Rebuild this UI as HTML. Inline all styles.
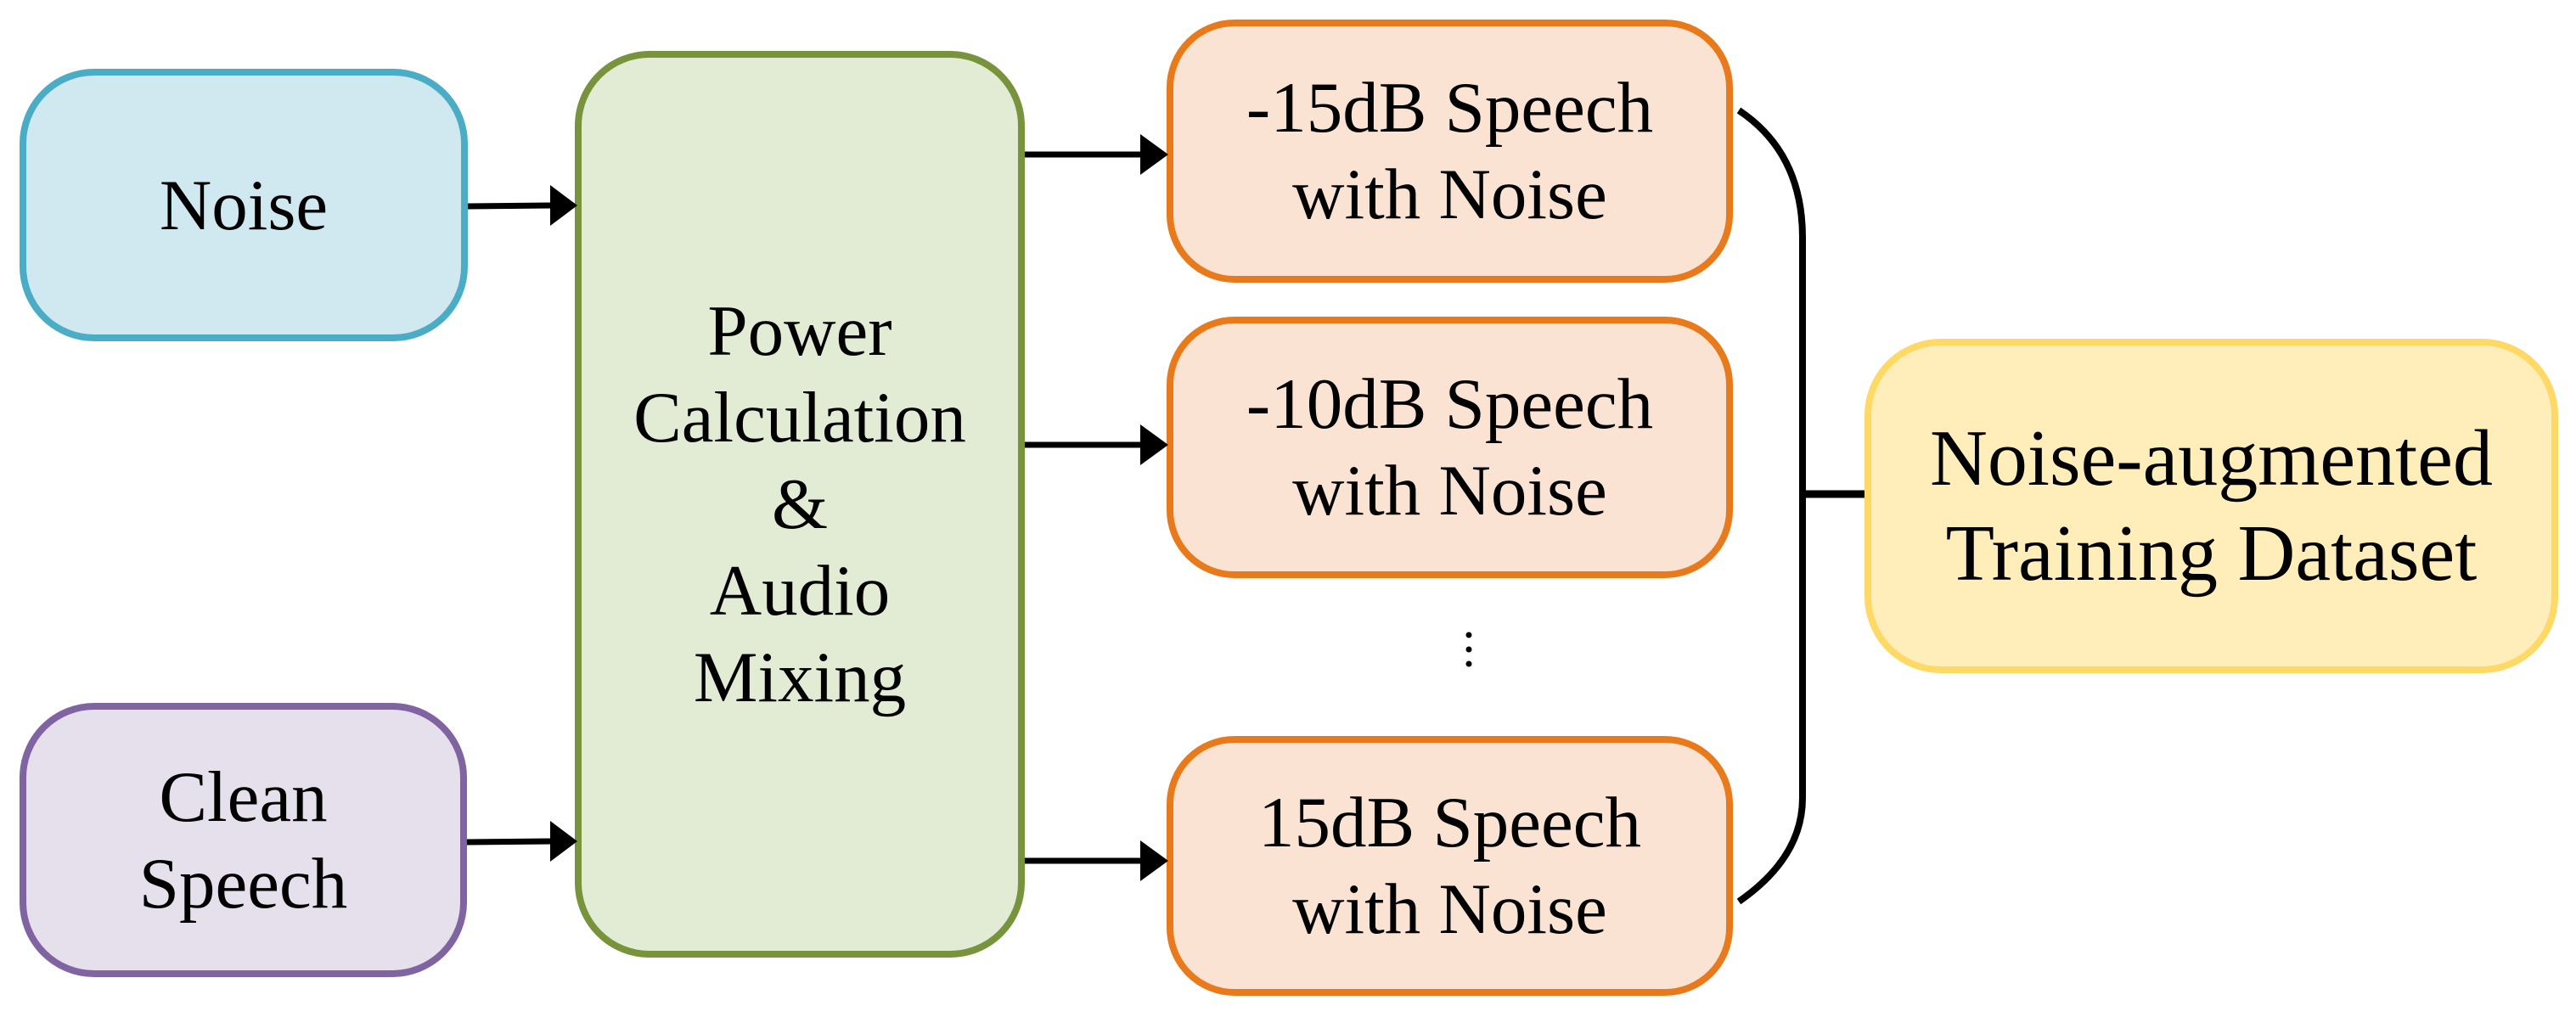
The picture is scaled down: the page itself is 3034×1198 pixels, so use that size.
<!DOCTYPE html>
<html><head><meta charset="utf-8"><style>
html,body{margin:0;padding:0;background:#fff;}
body{width:3034px;height:1198px;position:relative;overflow:hidden;font-family:"Liberation Serif",serif;color:#000;}
.b{position:absolute;box-sizing:border-box;border-width:8px;border-style:solid;display:flex;align-items:center;justify-content:center;text-align:center;font-size:85px;line-height:102px;}
svg{position:absolute;left:0;top:0;}
</style></head><body>
<div class="b" style="left:23px;top:81px;width:528px;height:321px;border-radius:88px;background:#d0e8ef;border-color:#4bacc6;">Noise</div>
<div class="b" style="left:23px;top:828px;width:527px;height:323px;border-radius:88px;background:#e6e0ec;border-color:#8064a2;">Clean<br>Speech</div>
<div class="b" style="left:677px;top:60px;width:530px;height:1068px;border-radius:88px;background:#e2ebd3;border-color:#77933c;">Power<br>Calculation<br>&amp;<br>Audio<br>Mixing</div>
<div class="b" style="left:1374px;top:23px;width:667px;height:310px;border-radius:80px;background:#fbe3d3;border-color:#e97a1c;">-15dB Speech<br>with Noise</div>
<div class="b" style="left:1374px;top:373px;width:667px;height:308px;border-radius:80px;background:#fbe3d3;border-color:#e97a1c;">-10dB Speech<br>with Noise</div>
<div class="b" style="left:1374px;top:867px;width:667px;height:306px;border-radius:80px;background:#fbe3d3;border-color:#e97a1c;">15dB Speech<br>with Noise</div>
<div class="b" style="left:2196px;top:399px;width:817px;height:394px;border-radius:90px;background:#ffeeb9;border-color:#ffd966;font-size:94px;line-height:112px;">Noise-augmented<br>Training Dataset</div>
<svg width="3034" height="1198" viewBox="0 0 3034 1198">
<g stroke="#000" stroke-width="7" fill="none">
<line x1="551" y1="243" x2="650" y2="242"/>
<line x1="550" y1="992" x2="650" y2="991"/>
<line x1="1207" y1="182" x2="1345" y2="182"/>
<line x1="1207" y1="524" x2="1345" y2="524"/>
<line x1="1207" y1="1014" x2="1345" y2="1014"/>
<path d="M2048 130 Q2123 180 2123 280 L2123 940 Q2123 1010 2048 1062" stroke-width="8"/>
<line x1="2123" y1="582" x2="2196" y2="582" stroke-width="9"/>
</g>
<g fill="#000">
<polygon points="648,218 680,242 648,266"/>
<polygon points="648,967 680,991 648,1015"/>
<polygon points="1343,158 1376,182 1343,206"/>
<polygon points="1343,500 1376,524 1343,548"/>
<polygon points="1343,990 1376,1014 1343,1038"/>
<circle cx="1730" cy="748" r="3.5"/>
<circle cx="1730" cy="765" r="3.5"/>
<circle cx="1730" cy="782" r="3.5"/>
</g>
</svg>
</body></html>
